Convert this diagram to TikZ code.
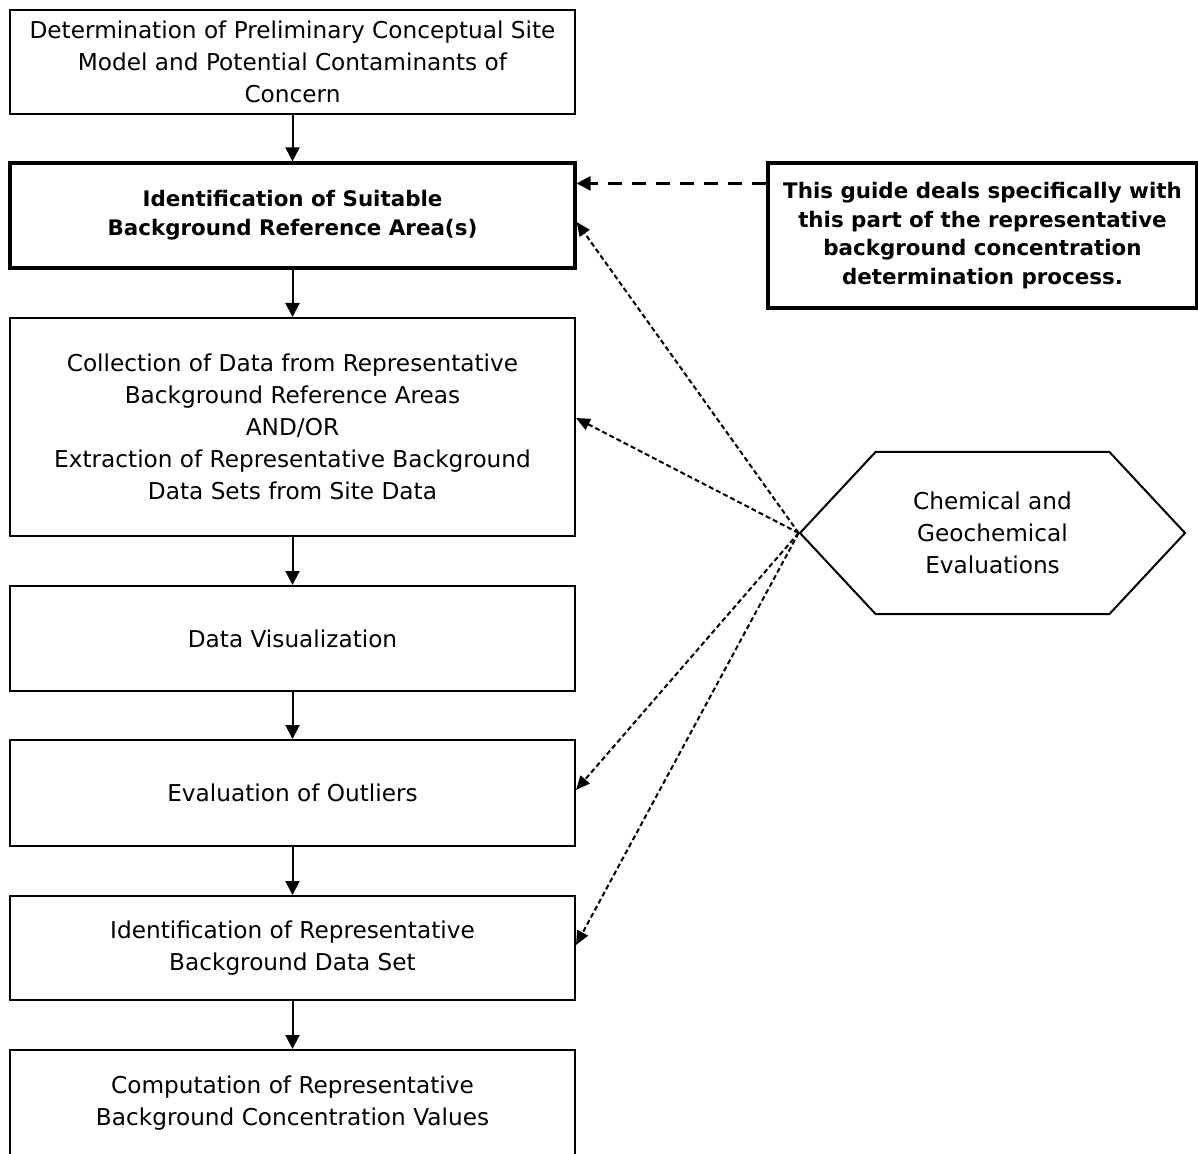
\documentclass[tikz,border=0pt]{standalone}
\usepackage{fontspec}
\setmainfont{DejaVu Sans}
\usetikzlibrary{arrows.meta,shapes.symbols}

\begin{document}
\begin{tikzpicture}[x=0.5pt, y=-0.5pt]
    \fontsize{11.6}{16}\selectfont

    % Shapes
    \tikzstyle{process}=[rectangle, draw, line width=1pt, minimum width=282.5pt, minimum height=52pt, align=center, inner sep=0pt]
    \tikzstyle{focus}=[process, line width=1.6pt, font=\fontsize{10.7}{14.5}\selectfont\bfseries]
    \tikzstyle{note}=[rectangle, draw, line width=1.6pt, minimum width=214.5pt, minimum height=72.5pt, align=center, font=\fontsize{10.7}{14.3}\selectfont\bfseries]
    \tikzstyle{evaluation}=[signal, signal to=west and east, signal pointer angle=94, draw, line width=1pt, minimum width=192.5pt, minimum height=81pt, align=center, inner sep=0pt]
    \tikzstyle{flow}=[-{Triangle[length=7pt, width=7pt]}, line width=1pt]
    \tikzstyle{link}=[-{Triangle[length=7pt, width=6pt]}, line width=1pt, dash pattern=on 2.5pt off 1.5pt]
    \tikzstyle{scope link}=[-{Triangle[length=7pt, width=7pt]}, line width=1.5pt, dash pattern=on 7pt off 5pt]

    \useasboundingbox (0,0) rectangle (1198,1154);

    % Blocks
    \node[process] at (292.5,62) (csm) {Determination of Preliminary Conceptual Site\\Model and Potential Contaminants of\\Concern};
    \node[focus, minimum height=52.5pt] at (292.5,215.5) (refArea) {Identification of Suitable\\Background Reference Area(s)};
    \node[process, minimum height=109pt] at (292.5,427) (collect) {Collection of Data from Representative\\Background Reference Areas\\AND/OR\\Extraction of Representative Background\\Data Sets from Site Data};
    \node[process, minimum height=52.5pt] at (292.5,638.5) (visual) {Data Visualization};
    \node[process, minimum height=53pt] at (292.5,793) (outliers) {Evaluation of Outliers};
    \node[process] at (292.5,948) (dataSet) {Identification of Representative\\Background Data Set};
    \node[process, minimum height=53pt] at (292.5,1103) (compute) {Computation of Representative\\Background Concentration Values};

    % Side nodes
    \node[note] at (982.5,235.5) (guide) {This guide deals specifically with\\this part of the representative\\background concentration\\determination process.};
    \node[evaluation] at (992.5,533) (chem) {Chemical and\\Geochemical\\Evaluations};

    % Arrows
    \draw[flow] (csm) -- (refArea);
    \draw[flow] (refArea) -- (collect);
    \draw[flow] (collect) -- (visual);
    \draw[flow] (visual) -- (outliers);
    \draw[flow] (outliers) -- (dataSet);
    \draw[flow] (dataSet) -- (compute);

    \coordinate (guideOut) at ([yshift=-11pt]guide.north west);
    \draw[scope link] (guideOut) -- (guideOut -| refArea.east);

    \draw[link] (chem.west) -- ([yshift=-3.25pt]refArea.east);
    \draw[link] (chem.west) -- ([yshift=4.5pt]collect.east);
    \draw[link] (chem.west) -- ([yshift=1.5pt]outliers.east);
    \draw[link] (chem.west) -- ([yshift=1.5pt]dataSet.east);
\end{tikzpicture}
\end{document}
